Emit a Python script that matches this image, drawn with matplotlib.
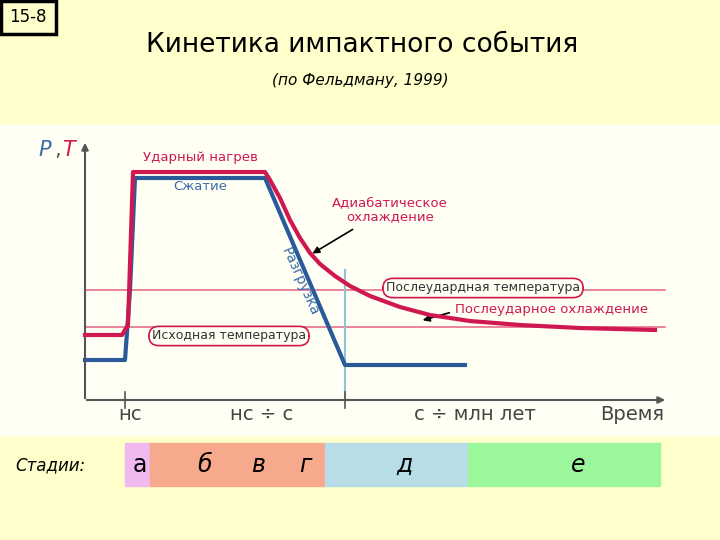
import matplotlib
matplotlib.use("Agg")
import matplotlib.pyplot as plt
from matplotlib.patches import Rectangle

# data (pixel-space schematic coordinates)
temp_x = [85, 122, 128, 133, 265, 270, 280, 290, 300, 310, 320, 335, 350, 370, 400, 430, 470, 520, 580, 655]
temp_y = [335, 335, 325, 172, 172, 180, 198, 220, 238, 253, 264, 276, 286, 296, 307, 315, 321, 325, 328, 330]
pres_x = [85, 125, 130, 135, 265, 345, 465]
pres_y = [360, 360, 290, 178, 178, 365, 365]
stage_labels = ["а", "б", "в", "г", "д", "е"]
stage_label_x = [140, 205, 258, 305, 405, 578]
stage_spans = [(125, 150), (150, 325), (325, 468), (468, 660)]
stage_colors = ["#F2B8F0", "#F6A98C", "#B8DDE6", "#9CF79C"]
time_labels = ["нс", "нс ÷ с", "с ÷ млн лет", "Время"]
time_label_x = [130, 262, 475, 632]

fig = plt.figure(figsize=(7.2, 5.4), dpi=100)
fig.patch.set_facecolor("#FFFFCC")
ax = fig.add_axes([0, 0, 1, 1])
ax.set_xlim(0, 720); ax.set_ylim(540, 0); ax.axis("off")

ax.add_patch(Rectangle((0, 125), 720, 310, color="#FFFFF4", zorder=0))
ax.add_patch(Rectangle((1, 1), 55, 33, fill=False, lw=2.5, ec="black"))
ax.text(28, 17, "15-8", ha="center", va="center", fontsize=12, family="DejaVu Sans")
ax.text(362, 45, "Кинетика импактного события", ha="center", va="center", fontsize=19)
ax.text(360, 80, "(по Фельдману, 1999)", ha="center", va="center", fontsize=11, style="italic")

for y in (290, 327):
    ax.plot([85, 665], [y, y], color="#E8708A", lw=1.2, zorder=1)
ax.plot([345, 345], [270, 400], color="#8CC4D8", lw=1.5, zorder=1)

ax.plot(pres_x, pres_y, color="#2A5A9A", lw=3, zorder=3)
ax.plot(temp_x, temp_y, color="#D01850", lw=3, zorder=4)

ax.annotate("", xy=(85, 140), xytext=(85, 401), arrowprops=dict(arrowstyle="-|>", color="#555", lw=1.5))
ax.annotate("", xy=(668, 400), xytext=(84, 400), arrowprops=dict(arrowstyle="-|>", color="#555", lw=1.5))
for x in (125, 345):
    ax.plot([x, x], [392, 408], color="#555", lw=1.2)
for t, x in zip(time_labels, time_label_x):
    ax.text(x, 415, t, ha="center", va="center", fontsize=14, color="#444")
ax.text(38, 150, "P", color="#3A6AAA", fontsize=15, style="italic", va="center")
ax.text(54, 150, ",", color="#555", fontsize=15, va="center")
ax.text(62, 150, "T", color="#D01850", fontsize=15, style="italic", va="center")

ax.text(200, 158, "Ударный нагрев", color="#D01850", ha="center", va="center", fontsize=9.5)
ax.text(200, 187, "Сжатие", color="#3A6AAA", ha="center", va="center", fontsize=9.5)
ax.text(390, 210, "Адиабатическое\nохлаждение", color="#D01850", ha="center", va="center", fontsize=9.5, linespacing=1.1)
ax.annotate("", xy=(310, 255), xytext=(355, 228), arrowprops=dict(arrowstyle="-|>", color="black", lw=1.2))
ax.text(552, 310, "Послеударное охлаждение", color="#D01850", ha="center", va="center", fontsize=9.5)
ax.annotate("", xy=(420, 321), xytext=(452, 312), arrowprops=dict(arrowstyle="-|>", color="black", lw=1.2))
ax.text(300, 282, "Разгрузка", color="#3A6AAA", rotation=-66, ha="center", va="center", fontsize=10)
ax.text(483, 288, "Послеудардная температура", color="#333", ha="center", va="center", fontsize=9,
        bbox=dict(boxstyle="round,pad=0.25,rounding_size=0.8", fc="#FFFFF4", ec="#D01850", lw=1.2), zorder=5)
ax.text(229, 336, "Исходная температура", color="#333", ha="center", va="center", fontsize=9,
        bbox=dict(boxstyle="round,pad=0.25,rounding_size=0.8", fc="#FFFFF4", ec="#D01850", lw=1.2), zorder=5)

ax.text(50, 465, "Стадии:", ha="center", va="center", fontsize=12, style="italic")
for (a, b), c in zip(stage_spans, stage_colors):
    ax.add_patch(Rectangle((a, 443), b - a, 43, color=c, zorder=1))
for t, x in zip(stage_labels, stage_label_x):
    ax.text(x, 465, t, ha="center", va="center", fontsize=17, style="italic" if t != "а" else "normal")

fig.savefig("out.png", dpi=100, facecolor=fig.get_facecolor())
